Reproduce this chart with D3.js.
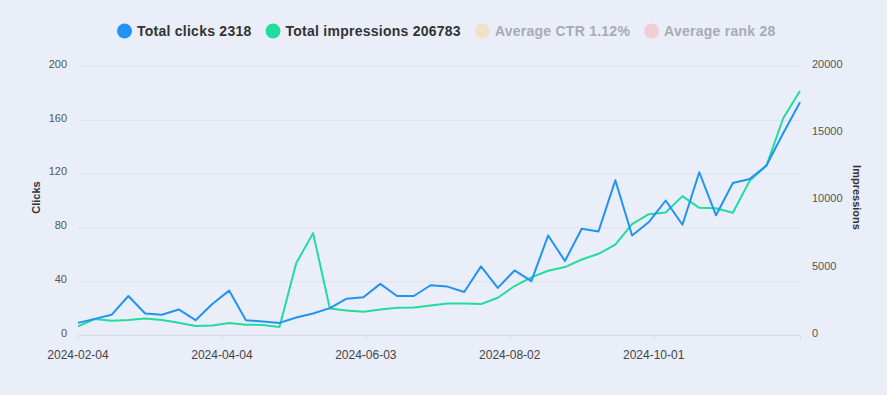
<!DOCTYPE html>
<html>
<head>
<meta charset="utf-8">
<script src="https://cdn.jsdelivr.net/npm/d3@7"></script>
<style>
  html, body { margin: 0; padding: 0; background: #eaeef8; }
  svg { display: block; font-family: "Liberation Sans", Arial, sans-serif; }
  .grid-line { stroke: #dfe2ea; stroke-width: 1; }
  .tick-label { font-size: 11px; fill: #555; }
  .x-label { font-size: 12px; fill: #444; }
  .axis-title { font-size: 11px; font-weight: bold; fill: #333; }
</style>
</head>
<body>
<div id="chart"></div>
<script>
// weekly data points
const weeks = [
  "2024-02-04", "2024-02-11", "2024-02-18", "2024-02-25", "2024-03-03", "2024-03-10",
  "2024-03-17", "2024-03-24", "2024-03-31", "2024-04-07", "2024-04-14", "2024-04-21",
  "2024-04-28", "2024-05-05", "2024-05-12", "2024-05-19", "2024-05-26", "2024-06-02",
  "2024-06-09", "2024-06-16", "2024-06-23", "2024-06-30", "2024-07-07", "2024-07-14",
  "2024-07-21", "2024-07-28", "2024-08-04", "2024-08-11", "2024-08-18", "2024-08-25",
  "2024-09-01", "2024-09-08", "2024-09-15", "2024-09-22", "2024-09-29", "2024-10-06",
  "2024-10-13", "2024-10-20", "2024-10-27", "2024-11-03", "2024-11-10", "2024-11-17",
  "2024-11-24", "2024-12-01"
];

const clicks = [
  9, 12, 15, 29, 16, 15, 19, 11, 23, 33, 11, 10,
  9, 13, 16, 20, 27, 28, 38, 29, 29, 37, 36, 32,
  51, 35, 48, 40, 74, 55, 79, 77, 115, 74, 84, 100,
  82, 121, 89, 113, 116, 126, 150, 173
];

const impressions = [
  640, 1190, 1060, 1110, 1230, 1110, 910, 670, 710, 890, 765, 745,
  595, 5350, 7575, 1975, 1825, 1730, 1900, 2030, 2050, 2190, 2345, 2345,
  2300, 2770, 3640, 4280, 4775, 5050, 5615, 6040, 6720, 8245, 8985, 9105,
  10325, 9455, 9430, 9085, 11460, 12575, 16115, 18145
];

const xTickDates = ["2024-02-04", "2024-04-04", "2024-06-03", "2024-08-02", "2024-10-01"];
const clickTicks = [0, 40, 80, 120, 160, 200];
const impressionTicks = [0, 5000, 10000, 15000, 20000];

const legendItems = [
  { label: "Total clicks 2318", color: "#2193f5", active: true },
  { label: "Total impressions 206783", color: "#22dc9c", active: true },
  { label: "Average CTR 1.12%", color: "#efe2c9", active: false },
  { label: "Average rank 28", color: "#f1cdd8", active: false }
];

const W = 887, H = 395;
const plot = { left: 78, right: 800, top: 66, bottom: 335 };
const parse = d3.utcParse("%Y-%m-%d");

const svg = d3.select("#chart").append("svg")
  .attr("width", W).attr("height", H);

svg.append("rect").attr("width", W).attr("height", H).attr("fill", "#eaeef8");

const x = d3.scaleUtc()
  .domain([parse(weeks[0]), parse(weeks[weeks.length - 1])])
  .range([plot.left, plot.right]);

const yClicks = d3.scaleLinear().domain([0, 200]).range([plot.bottom, plot.top]);
const yImpr = d3.scaleLinear().domain([0, 20000]).range([plot.bottom, plot.top]);

// Grid lines (shared between both axes)
svg.append("g").selectAll("line")
  .data(clickTicks.filter(d => d > 0))
  .join("line")
  .attr("class", "grid-line")
  .attr("x1", plot.left).attr("x2", plot.right)
  .attr("y1", d => yClicks(d) + 0.5).attr("y2", d => yClicks(d) + 0.5);

// Left axis labels
svg.append("g").selectAll("text")
  .data(clickTicks)
  .join("text")
  .attr("class", "tick-label")
  .attr("x", 67)
  .attr("y", d => yClicks(d) - 2)
  .attr("dy", "0.35em")
  .attr("text-anchor", "end")
  .text(d => d);

// Right axis labels
svg.append("g").selectAll("text")
  .data(impressionTicks)
  .join("text")
  .attr("class", "tick-label")
  .attr("x", 812)
  .attr("y", d => yImpr(d) - 2)
  .attr("dy", "0.35em")
  .attr("text-anchor", "start")
  .text(d => d);

// Bottom axis
const xAxis = svg.append("g").attr("transform", `translate(0,${plot.bottom})`);
xAxis.append("line")
  .attr("x1", plot.left).attr("x2", plot.right)
  .attr("y1", 0.5).attr("y2", 0.5)
  .attr("stroke", "#dcdee5").attr("stroke-width", 1.5);

const tickPositions = xTickDates.map(d => x(parse(d))).concat([plot.right]);
xAxis.selectAll(".tick")
  .data(tickPositions)
  .join("line")
  .attr("x1", d => Math.round(d) + 0.5).attr("x2", d => Math.round(d) + 0.5)
  .attr("y1", 0).attr("y2", 5)
  .attr("stroke", "#dcdee5");

xAxis.selectAll(".x-label")
  .data(xTickDates)
  .join("text")
  .attr("class", "x-label")
  .attr("x", d => x(parse(d)))
  .attr("y", 20)
  .attr("dy", "0.35em")
  .attr("text-anchor", "middle")
  .text(d => d);

// Axis titles
svg.append("text")
  .attr("class", "axis-title")
  .attr("transform", `translate(40,${(plot.top + plot.bottom) / 2 - 3}) rotate(-90)`)
  .attr("text-anchor", "middle")
  .text("Clicks");

svg.append("text")
  .attr("class", "axis-title")
  .attr("transform", `translate(853,${(plot.top + plot.bottom) / 2 - 3}) rotate(90)`)
  .attr("text-anchor", "middle")
  .text("Impressions");

// Lines
const lineImpr = d3.line()
  .x((d, i) => x(parse(weeks[i])))
  .y(d => yImpr(d));

const lineClicks = d3.line()
  .x((d, i) => x(parse(weeks[i])))
  .y(d => yClicks(d));

svg.append("path")
  .datum(impressions)
  .attr("d", lineImpr)
  .attr("fill", "none")
  .attr("stroke", legendItems[1].color)
  .attr("stroke-width", 2)
  .attr("stroke-linejoin", "round");

svg.append("path")
  .datum(clicks)
  .attr("d", lineClicks)
  .attr("fill", "none")
  .attr("stroke", legendItems[0].color)
  .attr("stroke-width", 2)
  .attr("stroke-linejoin", "round");

// Legend, centered on top
const legend = svg.append("g");
const r = 7.5, iconGap = 5, itemGap = 14, legendY = 31;
let cursor = 0;
legendItems.forEach(item => {
  const g = legend.append("g").attr("transform", `translate(${cursor},0)`);
  g.append("circle")
    .attr("cx", r).attr("cy", legendY).attr("r", r)
    .attr("fill", item.color);
  const t = g.append("text")
    .attr("x", 2 * r + iconGap)
    .attr("y", legendY)
    .attr("dy", "0.35em")
    .attr("font-size", 14)
    .attr("font-weight", "bold")
    .attr("letter-spacing", 0.25)
    .attr("fill", item.active ? "#333" : "#a9abb0")
    .text(item.label);
  cursor += 2 * r + iconGap + t.node().getComputedTextLength() + itemGap;
});
const legendWidth = cursor - itemGap;
legend.attr("transform", `translate(${Math.round(446 - legendWidth / 2)},0)`);
</script>
</body>
</html>
